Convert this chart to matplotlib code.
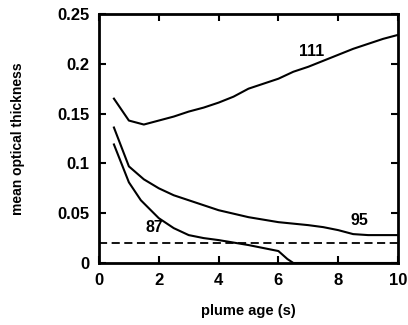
import matplotlib
matplotlib.use("Agg")
import matplotlib.pyplot as plt

plt.rcParams["font.family"] = ["Liberation Sans", "DejaVu Sans"]
plt.rcParams["font.weight"] = "bold"

# plume age (s) and mean optical thickness
age_111 = [0.5, 1.0, 1.5, 2.0, 2.5, 3.0, 3.5, 4.0, 4.5, 5.0, 5.5, 6.0, 6.5,
           7.0, 7.5, 8.0, 8.5, 9.0, 9.5, 10.0]
tau_111 = [0.165, 0.143, 0.139, 0.143, 0.147, 0.152, 0.156, 0.161, 0.167, 0.175,
           0.180, 0.185, 0.192, 0.197, 0.203, 0.209, 0.215, 0.220, 0.225, 0.229]

age_95 = [0.5, 1.0, 1.5, 2.0, 2.5, 3.0, 3.5, 4.0, 5.0, 6.0, 7.0, 7.5, 8.0,
          8.5, 9.0, 10.0]
tau_95 = [0.136, 0.097, 0.084, 0.075, 0.068, 0.063, 0.058, 0.053, 0.046, 0.041,
          0.038, 0.036, 0.033, 0.029, 0.028, 0.028]

age_87 = [0.5, 1.0, 1.4, 2.0, 2.5, 3.0, 3.5, 4.0, 5.0, 6.0, 6.3, 6.5, 10.0]
tau_87 = [0.119, 0.081, 0.063, 0.045, 0.035, 0.028, 0.025, 0.023, 0.018, 0.012,
          0.004, 0.0, 0.0]

threshold = 0.020

fig = plt.figure(figsize=(4.08, 3.25), dpi=100)
ax = fig.add_axes([0.2426, 0.1908, 0.7329, 0.7662])

for x, y in [(age_111, tau_111), (age_95, tau_95), (age_87, tau_87)]:
    ax.plot(x, y, color="black", lw=1.5)
ax.axhline(threshold, color="black", lw=1.3, ls=(0, (4.5, 2.5)))

ax.text(6.7, 0.208, "111", fontsize=11.5, fontweight="bold")
ax.text(8.4, 0.038, "95", fontsize=11.5, fontweight="bold")
ax.text(1.55, 0.031, "87", fontsize=11.5, fontweight="bold")

ax.set_xlim(0, 10)
ax.set_ylim(0, 0.25)
ax.set_xticks([0, 2, 4, 6, 8, 10])
ax.set_xticklabels(["0", "2", "4", "6", "8", "10"])
ax.set_yticks([0, 0.05, 0.1, 0.15, 0.2, 0.25])
ax.set_yticklabels(["0", "0.05", "0.1", "0.15", "0.2", "0.25"])
ax.tick_params(direction="in", length=5, width=1.5, labelsize=12,
               top=True, right=True, pad=7)
for s in ax.spines.values():
    s.set_linewidth(2)

ax.set_xlabel("plume age (s)", fontsize=10.5, fontweight="bold", labelpad=12)
ax.set_ylabel("mean optical thickness", fontsize=10, fontweight="bold", labelpad=23)

fig.savefig("out.png", dpi=100)
